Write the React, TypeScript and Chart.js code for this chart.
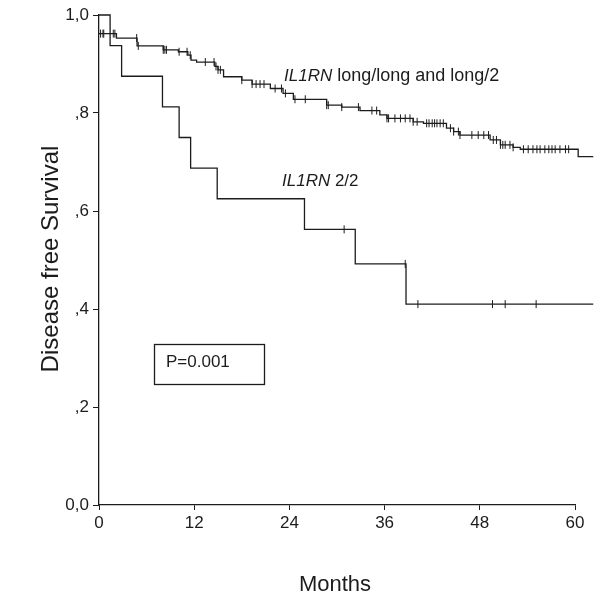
import { useEffect, useRef } from "react";
import { Chart, registerables } from "chart.js";

Chart.register(...registerables);

// X axis (months)
const xTickValues = [0, 12, 24, 36, 48, 60];
// Y axis (survival)
const yTickValues = [0, 0.2, 0.4, 0.6, 0.8, 1.0];
const yTickLabels = ["0,0", ",2", ",4", ",6", ",8", "1,0"];

// IL1RN long/long and long/2 : event times and survival after each step
const upperTimes = [0, 2.2, 4.8, 8.1, 10.0, 11.2, 11.6, 12.3, 14.6, 15.0, 15.7, 18.0, 19.3, 21.6, 23.2, 24.5, 28.7, 30.6, 32.9, 35.4, 36.3, 39.6, 40.9, 43.8, 44.7, 45.5, 49.3, 50.6, 52.2, 53.1, 60.4];
const upperSurv = [0.962, 0.953, 0.937, 0.929, 0.925, 0.918, 0.908, 0.904, 0.895, 0.888, 0.874, 0.867, 0.859, 0.850, 0.840, 0.828, 0.816, 0.812, 0.805, 0.796, 0.789, 0.782, 0.779, 0.769, 0.762, 0.755, 0.745, 0.735, 0.730, 0.726, 0.711];
const upperEnd = 62.3;
const upperCensored = [0.2, 0.5, 0.6, 1.8, 2.0, 4.75, 4.95, 8.1, 8.3, 8.5, 10.1, 11.1, 11.5, 13.4, 14.5, 14.75, 15.0, 15.3, 18.0, 19.3, 19.8, 20.3, 20.8, 22.2, 23.0, 23.5, 24.7, 26.0, 28.7, 28.9, 30.6, 32.7, 34.4, 35.0, 36.3, 36.5, 37.3, 38.0, 38.6, 39.2, 39.6, 40.1, 41.3, 41.6, 42.0, 42.3, 42.6, 43.0, 43.4, 44.3, 44.7, 45.3, 45.5, 47.0, 47.8, 48.5, 49.1, 49.7, 50.1, 50.6, 50.9, 51.2, 51.8, 52.2, 53.5, 54.1, 54.7, 55.2, 55.6, 56.2, 56.7, 57.1, 57.5, 58.1, 58.8, 59.2];

// IL1RN 2/2
const lowerTimes = [0, 1.4, 2.85, 8.0, 10.1, 11.55, 14.9, 25.9, 32.3, 38.7];
const lowerSurv = [1.0, 0.9375, 0.875, 0.8125, 0.75, 0.6875, 0.625, 0.5625, 0.492, 0.410];
const lowerEnd = 62.3;
const lowerCensored = [30.9, 38.6, 40.2, 49.6, 51.2, 55.1];

const FONT = "'Liberation Sans', Arial, sans-serif";
const INK = "#1c1c1c";

function stepPoints(times: number[], surv: number[], end: number) {
  const pts: { x: number; y: number }[] = [];
  for (let i = 0; i < times.length; i++) {
    if (i > 0) pts.push({ x: times[i], y: surv[i - 1] });
    pts.push({ x: times[i], y: surv[i] });
  }
  pts.push({ x: end, y: surv[surv.length - 1] });
  return pts;
}

function survAt(times: number[], surv: number[], t: number) {
  let v = surv[0];
  for (let i = 0; i < times.length; i++) {
    if (times[i] <= t) v = surv[i];
  }
  return v;
}

const annotations = {
  id: "kmAnnotations",
  afterDraw(chart: any) {
    const ctx = chart.ctx as CanvasRenderingContext2D;
    ctx.save();
    ctx.fillStyle = INK;
    ctx.strokeStyle = INK;
    ctx.textBaseline = "alphabetic";
    ctx.textAlign = "left";

    // series labels
    const drawLabel = (x: number, y: number, rest: string, size: number) => {
      ctx.font = `italic 17px ${FONT}`;
      ctx.fillText("IL1RN", x, y);
      const w = ctx.measureText("IL1RN").width;
      ctx.font = `${size}px ${FONT}`;
      ctx.fillText(rest, x + w, y);
    };
    drawLabel(284, 81, " long/long and long/2", 18);
    drawLabel(282, 186, " 2/2", 17);

    // p-value box
    ctx.lineWidth = 1.3;
    ctx.strokeRect(154.5, 344.5, 110, 40);
    ctx.font = `17px ${FONT}`;
    ctx.fillText("P=0.001", 166, 367);

    // axis titles
    ctx.font = `22px ${FONT}`;
    ctx.textAlign = "center";
    ctx.fillText("Months", 335, 591);
    ctx.save();
    ctx.translate(58, 259);
    ctx.rotate(-Math.PI / 2);
    ctx.font = `24px ${FONT}`;
    ctx.fillText("Disease free Survival", 0, 0);
    ctx.restore();

    ctx.restore();
  },
};

export default function App() {
  const ref = useRef<HTMLCanvasElement | null>(null);

  useEffect(() => {
    if (!ref.current) return;
    const lineCommon = {
      showLine: true,
      pointRadius: 0,
      borderColor: INK,
      borderWidth: 1.3,
      fill: false,
      tension: 0,
      clip: false as const,
    };
    const censorCommon = {
      showLine: false,
      pointStyle: "line" as const,
      rotation: 90,
      pointRadius: 4,
      borderColor: INK,
      borderWidth: 1,
      clip: false as const,
    };
    const chart = new Chart(ref.current, {
      type: "scatter",
      data: {
        datasets: [
          { ...lineCommon, label: "IL1RN long/long and long/2", data: stepPoints(upperTimes, upperSurv, upperEnd) },
          { ...lineCommon, label: "IL1RN 2/2", data: stepPoints(lowerTimes, lowerSurv, lowerEnd) },
          { ...censorCommon, label: "censored long", data: upperCensored.map((t) => ({ x: t, y: survAt(upperTimes, upperSurv, t) })) },
          { ...censorCommon, label: "censored 2/2", data: lowerCensored.map((t) => ({ x: t, y: survAt(lowerTimes, lowerSurv, t) })) },
        ],
      },
      options: {
        animation: false,
        responsive: false,
        maintainAspectRatio: false,
        events: [],
        layout: { padding: { top: 15, right: 25, left: 0, bottom: 0 } },
        plugins: { legend: { display: false }, tooltip: { enabled: false } },
        scales: {
          x: {
            type: "linear",
            afterDataLimits: (scale: any) => {
              scale.min = xTickValues[0];
              scale.max = xTickValues[xTickValues.length - 1];
            },
            afterBuildTicks: (scale: any) => {
              scale.ticks = xTickValues.map((v) => ({ value: v }));
            },
            afterFit: (scale: any) => {
              scale.height = 93;
            },
            ticks: { color: INK, font: { family: FONT, size: 17 }, padding: 3, maxRotation: 0, autoSkip: false },
            grid: { drawOnChartArea: false, drawTicks: true, tickLength: 5, color: INK, tickColor: INK, lineWidth: 1 },
            border: { display: true, color: INK, width: 1.3 },
          },
          y: {
            type: "linear",
            min: 0,
            max: 1,
            afterBuildTicks: (scale: any) => {
              scale.ticks = yTickValues.map((v) => ({ value: v }));
            },
            afterFit: (scale: any) => {
              scale.width = 99;
            },
            ticks: {
              color: INK,
              font: { family: FONT, size: 17 },
              padding: 4,
              callback: (value: any) => {
                const i = yTickValues.findIndex((v) => Math.abs(v - Number(value)) < 1e-6);
                return i >= 0 ? yTickLabels[i] : "";
              },
            },
            grid: { drawOnChartArea: false, drawTicks: true, tickLength: 6, color: INK, tickColor: INK, lineWidth: 1 },
            border: { display: true, color: INK, width: 1.3 },
          },
        },
      },
      plugins: [annotations],
    });
    return () => chart.destroy();
  }, []);

  return (
    <div style={{ position: "absolute", left: 0, top: 0, width: 600, height: 598, background: "#fff" }}>
      <canvas ref={ref} width={600} height={598} style={{ width: 600, height: 598, display: "block" }} />
    </div>
  );
}
